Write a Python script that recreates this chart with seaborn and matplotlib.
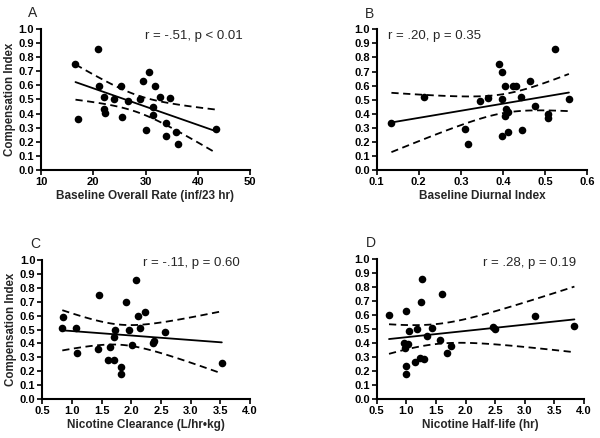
import numpy as np
import pandas as pd
import matplotlib
matplotlib.use("Agg")
import matplotlib.pyplot as plt
import seaborn as sns

# ---------------- data ----------------
a_rate = [16.6, 17.1, 20.9, 21.1, 22.1, 24.0, 22.1, 22.3, 25.3, 25.5, 26.7, 28.9, 29.6,
          30.0, 30.7, 31.8, 31.4, 31.4, 32.8, 34.6, 34.0, 34.0, 35.8, 36.2, 43.4]
a_ci = [0.753, 0.363, 0.860, 0.598, 0.516, 0.504, 0.430, 0.406, 0.598, 0.378, 0.489, 0.501, 0.632,
        0.285, 0.696, 0.598, 0.449, 0.390, 0.516, 0.511, 0.333, 0.240, 0.266, 0.183, 0.288]

b_diurnal = [0.135, 0.212, 0.310, 0.317, 0.345, 0.364, 0.390, 0.399, 0.398, 0.398, 0.405, 0.407, 0.405,
             0.413, 0.413, 0.424, 0.432, 0.443, 0.446, 0.465, 0.477, 0.508, 0.508, 0.525, 0.557]
b_ci = [0.334, 0.519, 0.291, 0.183, 0.490, 0.514, 0.753, 0.699, 0.502, 0.242, 0.599, 0.431, 0.381,
        0.410, 0.268, 0.599, 0.599, 0.517, 0.286, 0.633, 0.453, 0.398, 0.367, 0.860, 0.505]

c_clear = [0.849, 0.837, 1.073, 1.085, 1.451, 1.440, 1.640, 1.600, 1.710, 1.726, 1.714, 1.827,
           1.832, 1.911, 1.957, 2.018, 2.085, 2.119, 2.148, 2.232, 2.362, 2.384, 2.569, 3.525]
c_ci = [0.592, 0.511, 0.511, 0.329, 0.750, 0.362, 0.374, 0.283, 0.283, 0.499, 0.446, 0.232,
        0.178, 0.696, 0.496, 0.388, 0.856, 0.597, 0.508, 0.628, 0.400, 0.420, 0.484, 0.261]

d_half = [0.708, 1.000, 1.050, 0.961, 0.978, 1.030, 1.000, 1.000, 1.176, 1.248, 1.260, 1.142,
          1.230, 1.300, 1.355, 1.430, 1.564, 1.608, 1.688, 1.755, 2.460, 2.503, 3.169, 3.838]
d_ci = [0.601, 0.632, 0.487, 0.403, 0.363, 0.392, 0.236, 0.179, 0.499, 0.697, 0.861, 0.263,
        0.293, 0.284, 0.449, 0.510, 0.425, 0.752, 0.331, 0.377, 0.518, 0.503, 0.596, 0.523]

letters = ["A", "B", "C", "D"]
xlabels = ["Baseline Overall Rate (inf/23 hr)", "Baseline Diurnal Index",
           "Nicotine Clearance (L/hr\u2022kg)", "Nicotine Half-life (hr)"]
ylabel = "Compensation Index"
stats = ["r = -.51, p < 0.01", "r = .20, p = 0.35", "r = -.11, p = 0.60", "r = .28, p = 0.19"]
xticks = [[10, 20, 30, 40, 50], [0.1, 0.2, 0.3, 0.4, 0.5, 0.6],
          [0.5, 1.0, 1.5, 2.0, 2.5, 3.0, 3.5, 4.0], [0.5, 1.0, 1.5, 2.0, 2.5, 3.0, 3.5, 4.0]]
yticks = [0.0, 0.1, 0.2, 0.3, 0.4, 0.5, 0.6, 0.7, 0.8, 0.9, 1.0]

T975 = {22: 2.074, 23: 2.069}

sns.set_style("ticks")
plt.rcParams["font.family"] = ["Liberation Sans", "DejaVu Sans"]

fig = plt.figure(figsize=(6.0, 4.38), dpi=100)
pos = [
    [41 / 600, 1 - 169.7 / 438, 209 / 600, 140.4 / 438],
    [376.7 / 600, 1 - 170 / 438, 210.3 / 600, 140.7 / 438],
    [42.3 / 600, 1 - 399 / 438, 207.7 / 600, 139 / 438],
    [376.7 / 600, 1 - 399 / 438, 207.3 / 600, 139.7 / 438],
]
stat_pos = [(0.498, 0.955), (0.054, 0.955), (0.483, 0.975), (0.514, 0.975)]
letter_pos = [(33, 13), (370, 14), (35, 244), (370.7, 243)]

datasets = [(a_rate, a_ci), (b_diurnal, b_ci), (c_clear, c_ci), (d_half, d_ci)]

for i, (xs, ys) in enumerate(datasets):
    ax = fig.add_axes(pos[i])
    df = pd.DataFrame({"x": xs, "y": ys})
    sns.regplot(data=df, x="x", y="y", ax=ax, scatter=False, ci=None, truncate=True,
                line_kws=dict(color="black", lw=1.3))
    # 95% confidence band for the regression line
    x = np.asarray(xs, float)
    y = np.asarray(ys, float)
    n = len(x)
    b, a = np.polyfit(x, y, 1)
    resid = y - (a + b * x)
    s = np.sqrt(np.sum(resid ** 2) / (n - 2))
    sxx = np.sum((x - x.mean()) ** 2)
    grid = np.linspace(x.min(), x.max(), 100)
    se = s * np.sqrt(1 / n + (grid - x.mean()) ** 2 / sxx)
    fit = a + b * grid
    t = T975.get(n - 2, 2.07)
    band = pd.DataFrame({"x": grid, "lo": fit - t * se, "hi": fit + t * se})
    sns.lineplot(data=band, x="x", y="lo", ax=ax, color="black", lw=1.3,
                 linestyle=(0, (4, 2.5)))
    sns.lineplot(data=band, x="x", y="hi", ax=ax, color="black", lw=1.3,
                 linestyle=(0, (4, 2.5)))
    sns.scatterplot(data=df, x="x", y="y", ax=ax, color="black", s=30,
                    edgecolor="black", linewidth=0, zorder=5)

    ax.set_xlim(xticks[i][0], xticks[i][-1])
    ax.set_ylim(0, 1.0)
    ax.set_xticks(xticks[i])
    ax.set_yticks(yticks)
    if i == 0:
        ax.set_xticklabels([str(v) for v in xticks[i]])
    else:
        ax.set_xticklabels([f"{v:.1f}" for v in xticks[i]])
    ax.set_yticklabels([f"{v:.1f}" for v in yticks])
    for lab in ax.get_xticklabels() + ax.get_yticklabels():
        lab.set_fontweight("bold")
        lab.set_fontsize(8)
    ax.tick_params(axis="both", direction="out", length=3.5, width=1.2, pad=1.5, colors="black")
    for sp in ["left", "bottom"]:
        ax.spines[sp].set_linewidth(1.5)
        ax.spines[sp].set_color("black")
    sns.despine(ax=ax)
    ax.set_xlabel(xlabels[i], fontsize=8.5, fontweight="bold", labelpad=2.5)
    if i in (0, 2):
        ax.set_ylabel(ylabel, fontsize=8.3, fontweight="bold", labelpad=2)
    else:
        ax.set_ylabel("")
    ax.text(stat_pos[i][0], stat_pos[i][1], stats[i], transform=ax.transAxes,
            fontsize=9.5, ha="left", va="center")
    fig.text(letter_pos[i][0] / 600, 1 - letter_pos[i][1] / 438, letters[i],
             fontsize=10, ha="center", va="center")

fig.savefig("out.png", dpi=100)
